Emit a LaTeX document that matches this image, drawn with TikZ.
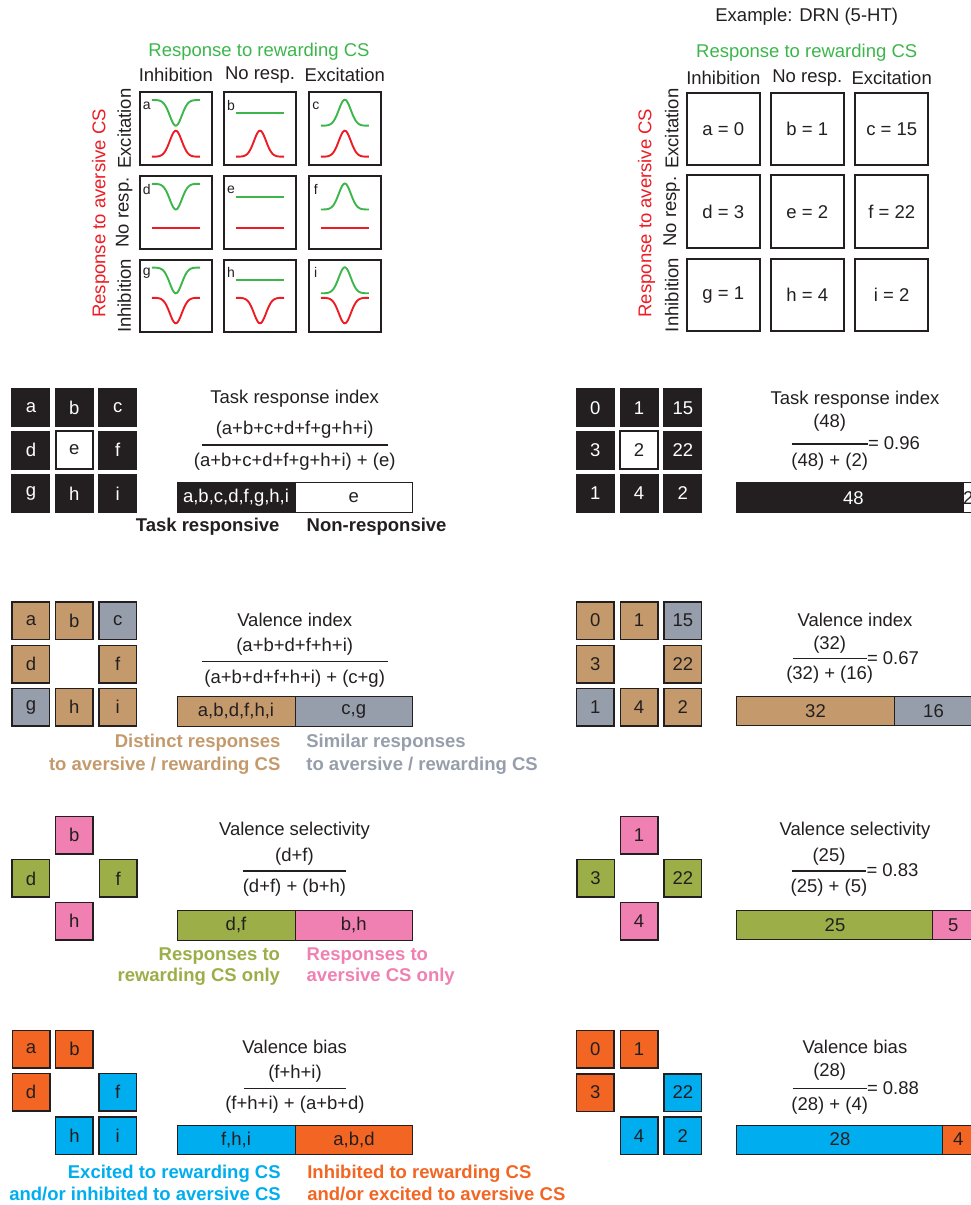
\documentclass[tikz,border=0pt]{standalone}
\usepackage{fontspec}
\setmainfont{Liberation Sans}
\definecolor{blk}{HTML}{231F20}
\definecolor{tan}{HTML}{C49A6C}
\definecolor{gry}{HTML}{969EAB}
\definecolor{olv}{HTML}{9BAE48}
\definecolor{pnk}{HTML}{F080B2}
\definecolor{org}{HTML}{F26522}
\definecolor{blu}{HTML}{00AEEF}
\definecolor{grn}{HTML}{3CB64B}
\definecolor{rd}{HTML}{ED1C24}
\newcommand\fsmain{\fontsize{18.5}{22}\selectfont}
\newcommand\fssmall{\fontsize{14}{16}\selectfont}
\newcommand\mywave[4]{\draw[#4, line width=1.9pt] plot[domain=-24:24,samples=49,smooth] ({#1+\x},{#2+#3*exp(-1*pow(\x/8.5,2))});}
\newcommand\myflat[3]{\draw[#3, line width=2pt] ({#1-24},{#2}) -- ({#1+24},{#2});}
\begin{document}
\begin{tikzpicture}[x=1pt,y=-1pt,
  every node/.style={inner sep=0pt, outer sep=0pt, font=\fsmain, text=blk},
  bigbox/.style={draw=blk, line width=2pt, minimum width=72.5pt, minimum height=72.5pt},
  sbox/.style={draw=blk, line width=1.5pt, minimum size=37.5pt},
  wbox/.style={sbox, fill=white, line width=2pt},
  kbox/.style={sbox, fill=blk, text=white},
  tbox/.style={sbox, fill=tan},
  gbox/.style={sbox, fill=gry},
  obox/.style={sbox, fill=olv},
  pbox/.style={sbox, fill=pnk},
  rbox/.style={sbox, fill=org},
  bbox/.style={sbox, fill=blu},
  letter/.style={font=\fssmall},
  fracline/.style={draw=blk, line width=1.5pt},
  barline/.style={draw=blk, line width=1pt},
  blab/.style={font=\fsmain\bfseries}
]
\useasboundingbox (0,0) rectangle (971,1205);
\clip (0,0) rectangle (971,1205);

% ================= TOP LEFT GRID =================
\node[text=grn] (gtl) at (259,51.7) {Response to rewarding CS};
\node (cl1) at (175.8,75) {Inhibition};
\node (cl2) at (260,75) {No resp.};
\node (cl3) at (344.8,75) {Excitation};
\node[text=rd, rotate=90] (rtl) at (100.7,213.5) {Response to aversive CS};
\node[rotate=90] (rl1) at (124.3,128.7) {Excitation};
\node[rotate=90] (rl2) at (124.3,212.4) {No resp.};
\node[rotate=90] (rl3) at (124.3,295.8) {Inhibition};
\foreach \n/\cx/\cy in {a/175.8/128.7, b/260/128.7, c/344.8/128.7,
                        d/175.8/212.4, e/260/212.4, f/344.8/212.4,
                        g/175.8/295.8, h/260/295.8, i/344.8/295.8}{
  \node[bigbox] (L\n) at (\cx,\cy) {};
  \node[letter] (Ll\n) at (\cx-29,\cy-23) {\n};
}
% green (rewarding) responses by column
\foreach \ty/\fy in {91.7/113,175.5/197,259.3/280}{
  \mywave{175.8}{\ty+8.3}{25.7}{grn}
  \myflat{260}{\fy}{grn}
  \mywave{344.8}{\ty+34}{-26}{grn}
}
% red (aversive) responses by row
\foreach \cx in {175.8,260,344.8}{
  \mywave{\cx}{91.7+65}{-26}{rd}
  \myflat{\cx}{228}{rd}
  \mywave{\cx}{259.3+38.5}{25.5}{rd}
}

% ================= TOP RIGHT GRID =================
\node (ex) at (806.7,16.7) {Example: DRN (5-HT)};
\node[text=grn] (gtr) at (806.7,52.7) {Response to rewarding CS};
\node (cr1) at (723.3,78.3) {Inhibition};
\node (cr2) at (807.3,78.3) {No resp.};
\node (cr3) at (891.7,78.3) {Excitation};
\node[text=rd, rotate=90] (rtr) at (646.7,213) {Response to aversive CS};
\node[rotate=90] (rr1) at (671.7,128.8) {Excitation};
\node[rotate=90] (rr2) at (671.7,211.7) {No resp.};
\node[rotate=90] (rr3) at (671.7,295) {Inhibition};
\node[bigbox] (Ra) at (723.3,128.8) {a = 0};
\node[bigbox] (Rb) at (807.3,128.8) {b = 1};
\node[bigbox] (Rc) at (891.7,128.8) {c = 15};
\node[bigbox] (Rd) at (723.3,211.7) {d = 3};
\node[bigbox] (Re) at (807.3,211.7) {e = 2};
\node[bigbox] (Rf) at (891.7,211.7) {f = 22};
\node[bigbox] (Rg) at (723.3,295) {g = 1};
\node[bigbox] (Rh) at (807.3,295) {h = 4};
\node[bigbox] (Ri) at (891.7,295) {i = 2};

% ================= TASK RESPONSE INDEX =================
\node[kbox] (ta) at (30.9,407.8) {a};
\node[kbox] (tb) at (74.3,407.8) {b};
\node[kbox] (tc) at (117.8,407.8) {c};
\node[kbox] (td) at (30.9,450) {d};
\node[wbox] (te) at (74.3,450) {e};
\node[kbox] (tf) at (117.8,450) {f};
\node[kbox] (tg) at (30.9,493.3) {g};
\node[kbox] (th) at (74.3,493.3) {h};
\node[kbox] (ti) at (117.8,493.3) {i};
\node (tt) at (294.7,398.3) {Task response index};
\node (tnum) at (294.7,430) {(a+b+c+d+f+g+h+i)};
\draw[fracline] (201.7,445) -- (387.7,445);
\node (tden) at (294.7,461.7) {(a+b+c+d+f+g+h+i) + (e)};
\draw[barline, fill=blk] (177,482.7) rectangle (295,512.7);
\draw[barline, fill=white] (295,482.7) rectangle (412.5,512.7);
\node[text=white] (tbar1) at (236,497.7) {a,b,c,d,f,g,h,i};
\node (tbar2) at (353.7,497.7) {e};
\node[blab, anchor=east] (tl1) at (279.5,526.7) {Task responsive};
\node[blab, anchor=west] (tl2) at (306.7,526.7) {Non-responsive};

% right
\node[kbox] (xa) at (595.3,407.8) {0};
\node[kbox] (xb) at (639,407.8) {1};
\node[kbox] (xc) at (682.8,407.8) {15};
\node[kbox] (xd) at (595.3,450) {3};
\node[wbox] (xe) at (639,450) {2};
\node[kbox] (xf) at (682.8,450) {22};
\node[kbox] (xg) at (595.3,493.3) {1};
\node[kbox] (xh) at (639,493.3) {4};
\node[kbox] (xi) at (682.8,493.3) {2};
\node (xt) at (855,400) {Task response index};
\node (xnum) at (829.7,422.3) {(48)};
\draw[fracline] (791.7,444) -- (867.7,444);
\node[anchor=west] (xres) at (868,443.3) {= 0.96};
\node (xden) at (829.7,461.7) {(48) + (2)};
\draw[barline, fill=blk] (736.7,482.7) rectangle (963.3,512.7);
\draw[barline, fill=white] (963.3,482.7) rectangle (973,512.7);
\node[text=white] (xbar1) at (853.3,497.7) {48};
\node (xbar2) at (968.2,497.7) {2};

% ================= VALENCE INDEX =================
\node[tbox] (va) at (30.9,620.5) {a};
\node[tbox] (vb) at (74.3,620.5) {b};
\node[gbox] (vc) at (117.8,620.5) {c};
\node[tbox] (vd) at (30.9,664) {d};
\node[tbox] (vf) at (117.8,664) {f};
\node[gbox] (vg) at (30.9,707) {g};
\node[tbox] (vh) at (74.3,707) {h};
\node[tbox] (vi) at (117.8,707) {i};
\node (vt) at (294.7,620) {Valence index};
\node (vnum) at (294.7,646.7) {(a+b+d+f+h+i)};
\draw[fracline] (201.8,661.7) -- (387.5,661.7);
\node (vden) at (294.7,678.3) {(a+b+d+f+h+i) + (c+g)};
\draw[barline, fill=tan] (177,696) rectangle (295,726);
\draw[barline, fill=gry] (295,696) rectangle (412.5,726);
\node (vbar1) at (236,711) {a,b,d,f,h,i};
\node (vbar2) at (353.7,711) {c,g};
\node[blab, anchor=east, text=tan] (vl1) at (280.4,742.7) {Distinct responses};
\node[blab, anchor=east, text=tan] (vl2) at (280.4,765.7) {to aversive / rewarding CS};
\node[blab, anchor=west, text=gry] (vl3) at (306.4,742.7) {Similar responses};
\node[blab, anchor=west, text=gry] (vl4) at (306.4,765.7) {to aversive / rewarding CS};

% right
\node[tbox] (ya) at (595.3,620.5) {0};
\node[tbox] (yb) at (639,620.5) {1};
\node[gbox] (yc) at (682.8,620.5) {15};
\node[tbox] (yd) at (595.3,664) {3};
\node[tbox] (yf) at (682.8,664) {22};
\node[gbox] (yg) at (595.3,707) {1};
\node[tbox] (yh) at (639,707) {4};
\node[tbox] (yi) at (682.8,707) {2};
\node (yt) at (855,620) {Valence index};
\node (ynum) at (829.7,645) {(32)};
\draw[fracline] (792.7,658.3) -- (866.7,658.3);
\node[anchor=west] (yres) at (867,657.8) {= 0.67};
\node (yden) at (829.7,675) {(32) + (16)};
\draw[barline, fill=tan] (736.7,696) rectangle (894.3,725.5);
\draw[barline, fill=gry] (894.3,696) rectangle (973,725.5);
\node (ybar1) at (815.5,710.8) {32};
\node (ybar2) at (933.5,710.8) {16};

% ================= VALENCE SELECTIVITY =================
\node[pbox] (sb) at (74.3,835.2) {b};
\node[obox] (sd) at (30.9,878.4) {d};
\node[obox] (sf) at (118.2,878.4) {f};
\node[pbox] (sh) at (74.3,921.2) {h};
\node (st) at (294.5,830.7) {Valence selectivity};
\node (snum) at (294.5,856.7) {(d+f)};
\draw[fracline] (243.3,871) -- (345.7,871);
\node (sden) at (294.5,887.3) {(d+f) + (b+h)};
\draw[barline, fill=olv] (177,910.7) rectangle (295,940);
\draw[barline, fill=pnk] (295,910.7) rectangle (412.5,940);
\node (sbar1) at (236,925.3) {d,f};
\node (sbar2) at (353.7,925.3) {b,h};
\node[blab, anchor=east, text=olv] (sl1) at (280,955.7) {Responses to};
\node[blab, anchor=east, text=olv] (sl2) at (280,976.7) {rewarding CS only};
\node[blab, anchor=west, text=pnk] (sl3) at (306.7,955.7) {Responses to};
\node[blab, anchor=west, text=pnk] (sl4) at (306.7,976.7) {aversive CS only};

% right
\node[pbox] (zb) at (639,835.2) {1};
\node[obox] (zd) at (595.5,878.4) {3};
\node[obox] (zf) at (682.8,878.4) {22};
\node[pbox] (zh) at (639,921.2) {4};
\node (zt) at (855,830.7) {Valence selectivity};
\node (znum) at (829,856.7) {(25)};
\draw[fracline] (791.7,871) -- (866,871);
\node[anchor=west] (zres) at (866.5,870.5) {= 0.83};
\node (zden) at (829,887.3) {(25) + (5)};
\draw[barline, fill=olv] (736.7,910.7) rectangle (932.7,939.5);
\draw[barline, fill=pnk] (932.7,910.7) rectangle (973,939.5);
\node (zbar1) at (835,925.1) {25};
\node (zbar2) at (953.3,925.1) {5};

% ================= VALENCE BIAS =================
\node[rbox] (ba) at (31.1,1049) {a};
\node[rbox] (bb) at (74.4,1049) {b};
\node[rbox] (bd) at (31.1,1092.2) {d};
\node[bbox] (bf) at (117.8,1092.2) {f};
\node[bbox] (bh) at (74.4,1135.5) {h};
\node[bbox] (bi) at (117.8,1135.5) {i};
\node (bt) at (294.7,1046.7) {Valence bias};
\node (bnum) at (295,1073.3) {(f+h+i)};
\draw[fracline] (243.7,1088.3) -- (346.3,1088.3);
\node (bden) at (295,1105) {(f+h+i) + (a+b+d)};
\draw[barline, fill=blu] (177,1125) rectangle (295.2,1154.3);
\draw[barline, fill=org] (295.2,1125) rectangle (412.9,1154.3);
\node (bbar1) at (236,1139.7) {f,h,i};
\node (bbar2) at (354,1139.7) {a,b,d};
\node[blab, anchor=east, text=blu] (bl1) at (280.7,1173.3) {Excited to rewarding CS};
\node[blab, anchor=east, text=blu] (bl2) at (280.7,1194.3) {and/or inhibited to aversive CS};
\node[blab, anchor=west, text=org] (bl3) at (307.3,1173.3) {Inhibited to rewarding CS};
\node[blab, anchor=west, text=org] (bl4) at (307.3,1194.3) {and/or excited to aversive CS};

% right
\node[rbox] (wa) at (595.3,1049) {0};
\node[rbox] (wb) at (639,1049) {1};
\node[rbox] (wd) at (595.3,1092.5) {3};
\node[bbox] (wf) at (682.8,1092.5) {22};
\node[bbox] (wh) at (639,1135.8) {4};
\node[bbox] (wi) at (682.8,1135.8) {2};
\node (wt) at (855,1046.7) {Valence bias};
\node (wnum) at (829.7,1071.7) {(28)};
\draw[fracline] (792.7,1088.3) -- (866.7,1088.3);
\node[anchor=west] (wres) at (867,1087.8) {= 0.88};
\node (wden) at (829.7,1106) {(28) + (4)};
\draw[barline, fill=blu] (736.7,1125) rectangle (942.7,1154);
\draw[barline, fill=org] (942.7,1125) rectangle (973,1154);
\node (wbar1) at (840,1139.5) {28};
\node (wbar2) at (958.3,1139.5) {4};
\end{tikzpicture}
\end{document}
